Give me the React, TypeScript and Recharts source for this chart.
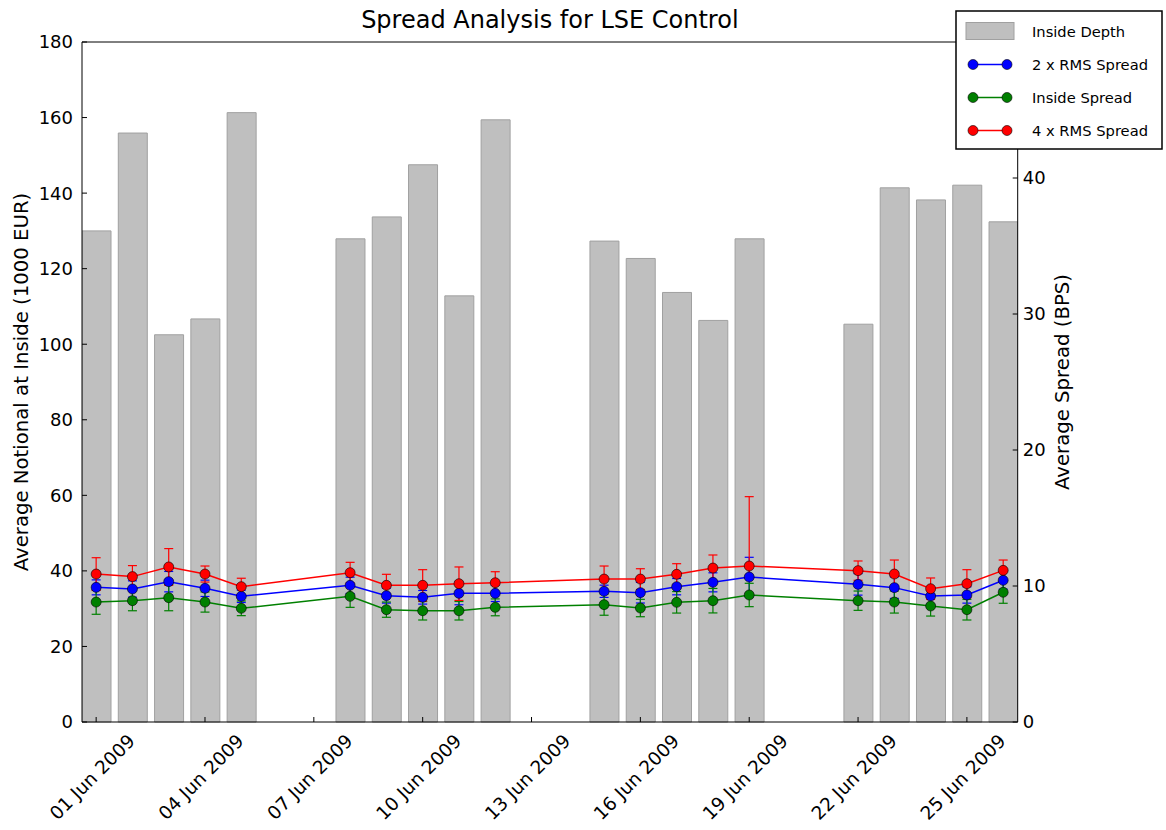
import React from 'react';
import { ComposedChart, Bar, Line, XAxis, YAxis, ErrorBar, Legend, Label } from 'recharts';

// Trading dates (June 2009)
const dates = [
  '2009-06-01', '2009-06-02', '2009-06-03', '2009-06-04', '2009-06-05',
  '2009-06-08', '2009-06-09', '2009-06-10', '2009-06-11', '2009-06-12',
  '2009-06-15', '2009-06-16', '2009-06-17', '2009-06-18', '2009-06-19',
  '2009-06-22', '2009-06-23', '2009-06-24', '2009-06-25', '2009-06-26',
];
// Inside Depth (1000 EUR)
const insideDepth = [130.0, 155.9, 102.5, 106.7, 161.3, 127.9, 133.7, 147.5, 112.8, 159.4, 127.3, 122.7, 113.7, 106.3, 127.9, 105.3, 141.4, 138.2, 142.1, 132.4];
// 2 x RMS Spread (BPS)
const rms2 = [9.90, 9.78, 10.32, 9.83, 9.24, 10.05, 9.29, 9.17, 9.46, 9.46, 9.61, 9.51, 9.95, 10.27, 10.66, 10.12, 9.88, 9.26, 9.34, 10.42];
const rms2Err = [0.55, 0.6, 0.75, 0.6, 0.45, 0.6, 0.55, 0.5, 0.84, 0.6, 0.45, 0.76, 0.6, 0.7, 1.45, 0.79, 0.79, 0.6, 0.6, 0.65];
// Inside Spread (BPS)
const insideSpread = [8.82, 8.92, 9.14, 8.82, 8.36, 9.24, 8.26, 8.18, 8.18, 8.43, 8.63, 8.38, 8.80, 8.92, 9.34, 8.92, 8.82, 8.53, 8.26, 9.54];
const insideErr = [0.90, 0.74, 0.96, 0.74, 0.54, 0.81, 0.56, 0.68, 0.68, 0.62, 0.78, 0.64, 0.79, 0.90, 0.86, 0.71, 0.81, 0.74, 0.76, 0.81];
// 4 x RMS Spread (BPS)
const rms4 = [10.88, 10.69, 11.40, 10.88, 9.95, 10.98, 10.05, 10.05, 10.17, 10.24, 10.51, 10.51, 10.86, 11.32, 11.47, 11.13, 10.88, 9.80, 10.17, 11.15];
const rms4ErrLow = [1.20, 0.81, 1.35, 0.59, 0.62, 0.76, 0.81, 1.15, 1.23, 0.81, 0.96, 0.76, 0.78, 0.96, 0.90, 0.71, 1.03, 0.79, 1.03, 0.76];
const rms4ErrHigh = [1.20, 0.81, 1.35, 0.59, 0.62, 0.76, 0.81, 1.15, 1.23, 0.81, 0.96, 0.76, 0.78, 0.96, 5.10, 0.71, 1.03, 0.79, 1.03, 0.76];

// x ticks: days since 01 Jun 2009
const xTicks = [0, 3, 6, 9, 12, 15, 18, 21, 24];
const leftTicks = [0, 20, 40, 60, 80, 100, 120, 140, 160, 180];
const rightTicks = [0, 10, 20, 30, 40];

const BASE = Date.UTC(2009, 5, 1);
const DAY = 86400000;
const X_DOMAIN: [number, number] = [-0.39, 25.4];

const data = dates.map((d, i) => {
  const [y, m, dd] = d.split('-').map(Number);
  return {
    day: (Date.UTC(y, m - 1, dd) - BASE) / DAY,
    depth: insideDepth[i],
    rms2: rms2[i],
    rms2Err: rms2Err[i],
    inside: insideSpread[i],
    insideErr: insideErr[i],
    rms4: rms4[i],
    rms4Err: [rms4ErrLow[i], rms4ErrHigh[i]],
  };
});

const FONT = 'DejaVu Sans, sans-serif';
const MONTHS = ['Jan', 'Feb', 'Mar', 'Apr', 'May', 'Jun', 'Jul', 'Aug', 'Sep', 'Oct', 'Nov', 'Dec'];

const fmtDate = (v: number) => {
  const d = new Date(BASE + v * DAY);
  const dd = String(d.getUTCDate()).padStart(2, '0');
  return `${dd} ${MONTHS[d.getUTCMonth()]} ${d.getUTCFullYear()}`;
};

const DateTick = (props: any) => {
  const { x, y, payload } = props;
  const cx = x - 4;
  const cy = y + 55;
  return (
    <text
      x={cx}
      y={cy}
      textAnchor="middle"
      dominantBaseline="central"
      transform={`rotate(-45 ${cx} ${cy})`}
      fontSize={18.5}
      fontFamily={FONT}
      fill="#000"
    >
      {fmtDate(payload.value)}
    </text>
  );
};

const LeftLabel = (props: any) => {
  const vb = props.viewBox || {};
  const cx = vb.x + 21;
  const cy = vb.y + vb.height / 2;
  return (
    <text x={cx} y={cy} transform={`rotate(-90 ${cx} ${cy})`} textAnchor="middle" dominantBaseline="central"
      fontSize={19.7} fontFamily={FONT} fill="#000">
      Average Notional at Inside (1000 EUR)
    </text>
  );
};

const RightLabel = (props: any) => {
  const vb = props.viewBox || {};
  const cx = vb.x + 45;
  const cy = vb.y + vb.height / 2;
  return (
    <text x={cx} y={cy} transform={`rotate(-90 ${cx} ${cy})`} textAnchor="middle" dominantBaseline="central"
      fontSize={19.7} fontFamily={FONT} fill="#000">
      Average Spread (BPS)
    </text>
  );
};

const TitleLabel = (props: any) => {
  const vb = props.viewBox || {};
  const cx = vb.x + vb.width / 2;
  return (
    <text x={cx} y={vb.y - 4} textAnchor="middle" fontSize={24} fontFamily={FONT} fill="#000">
      Spread Analysis for LSE Control
    </text>
  );
};

const legendItems = [
  { name: 'Inside Depth', type: 'bar', color: '#bfbfbf' },
  { name: '2 x RMS Spread', type: 'line', color: '#0000ff' },
  { name: 'Inside Spread', type: 'line', color: '#008000' },
  { name: '4 x RMS Spread', type: 'line', color: '#ff0000' },
];

const LegendBox = () => (
  <svg width={208} height={140} style={{ display: 'block' }}>
    <rect x={1} y={1} width={206} height={138} fill="#fff" stroke="#000" strokeWidth={1.5} />
    {legendItems.map((it, i) => {
      const cy = 21.5 + i * 33;
      return (
        <g key={it.name}>
          {it.type === 'bar' ? (
            <rect x={11} y={cy - 9} width={48} height={17} fill={it.color} stroke="#a0a0a0" strokeWidth={1} />
          ) : (
            <g>
              <line x1={18} y1={cy} x2={52} y2={cy} stroke={it.color} strokeWidth={1.5} />
              <circle cx={18} cy={cy} r={5} fill={it.color} stroke="#000" strokeWidth={0.6} />
              <circle cx={52} cy={cy} r={5} fill={it.color} stroke="#000" strokeWidth={0.6} />
            </g>
          )}
          <text x={77} y={cy} dominantBaseline="central" fontSize={14.7} fontFamily={FONT} fill="#000">
            {it.name}
          </text>
        </g>
      );
    })}
  </svg>
);

const axisTick = { fontSize: 18, fontFamily: FONT, fill: '#000' };
const axisLine = { stroke: '#000', strokeWidth: 1 };

export default function App() {
  return (
    <div style={{ position: 'absolute', left: 0, top: 0, width: 1166, height: 830, background: '#fff' }}>
      <ComposedChart
        width={1166}
        height={830}
        data={data}
        margin={{ top: 32, right: 0, bottom: 0, left: 0 }}
      >
        <XAxis
          dataKey="day"
          type="number"
          domain={X_DOMAIN}
          allowDataOverflow
          ticks={xTicks}
          interval={0}
          height={108}
          tickSize={-5}
          tickMargin={5}
          tick={<DateTick />}
          axisLine={axisLine}
          tickLine={{ stroke: '#000' }}
        />
        <XAxis
          xAxisId="top"
          orientation="top"
          dataKey="day"
          type="number"
          domain={X_DOMAIN}
          allowDataOverflow
          ticks={xTicks}
          interval={0}
          height={10}
          tickSize={-5}
          tick={false}
          axisLine={axisLine}
          tickLine={{ stroke: '#000' }}
        >
          <Label content={<TitleLabel />} />
        </XAxis>
        <YAxis
          yAxisId="left"
          width={82}
          domain={[0, 180]}
          ticks={leftTicks}
          interval={0}
          tickSize={-5}
          tickMargin={14}
          tick={axisTick}
          axisLine={axisLine}
          tickLine={{ stroke: '#000' }}
        >
          <Label content={<LeftLabel />} />
        </YAxis>
        <YAxis
          yAxisId="right"
          orientation="right"
          width={148.3}
          domain={[0, 50]}
          ticks={rightTicks}
          interval={0}
          tickSize={-5}
          tickMargin={10}
          tick={{ ...axisTick, textAnchor: 'start' }}
          axisLine={axisLine}
          tickLine={{ stroke: '#000' }}
        >
          <Label content={<RightLabel />} />
        </YAxis>
        <Legend
          verticalAlign="middle"
          layout="horizontal"
          content={<LegendBox />}
          wrapperStyle={{ left: 955, top: 10, width: 208, height: 140 }}
        />
        <Bar
          yAxisId="left"
          dataKey="depth"
          name="Inside Depth"
          barSize={29}
          fill="#bfbfbf"
          stroke="#a0a0a0"
          strokeWidth={1}
          isAnimationActive={false}
        />
        <Line
          yAxisId="right"
          dataKey="rms2"
          name="2 x RMS Spread"
          stroke="#0000ff"
          strokeWidth={1.5}
          dot={{ r: 5, fill: '#0000ff', stroke: '#000', strokeWidth: 0.6 }}
          isAnimationActive={false}
        >
          <ErrorBar dataKey="rms2Err" direction="y" width={4.5} stroke="#0000ff" strokeWidth={1.2} />
        </Line>
        <Line
          yAxisId="right"
          dataKey="inside"
          name="Inside Spread"
          stroke="#008000"
          strokeWidth={1.5}
          dot={{ r: 5, fill: '#008000', stroke: '#000', strokeWidth: 0.6 }}
          isAnimationActive={false}
        >
          <ErrorBar dataKey="insideErr" direction="y" width={4.5} stroke="#008000" strokeWidth={1.2} />
        </Line>
        <Line
          yAxisId="right"
          dataKey="rms4"
          name="4 x RMS Spread"
          stroke="#ff0000"
          strokeWidth={1.5}
          dot={{ r: 5, fill: '#ff0000', stroke: '#000', strokeWidth: 0.6 }}
          isAnimationActive={false}
        >
          <ErrorBar dataKey="rms4Err" direction="y" width={4.5} stroke="#ff0000" strokeWidth={1.2} />
        </Line>
      </ComposedChart>
    </div>
  );
}
